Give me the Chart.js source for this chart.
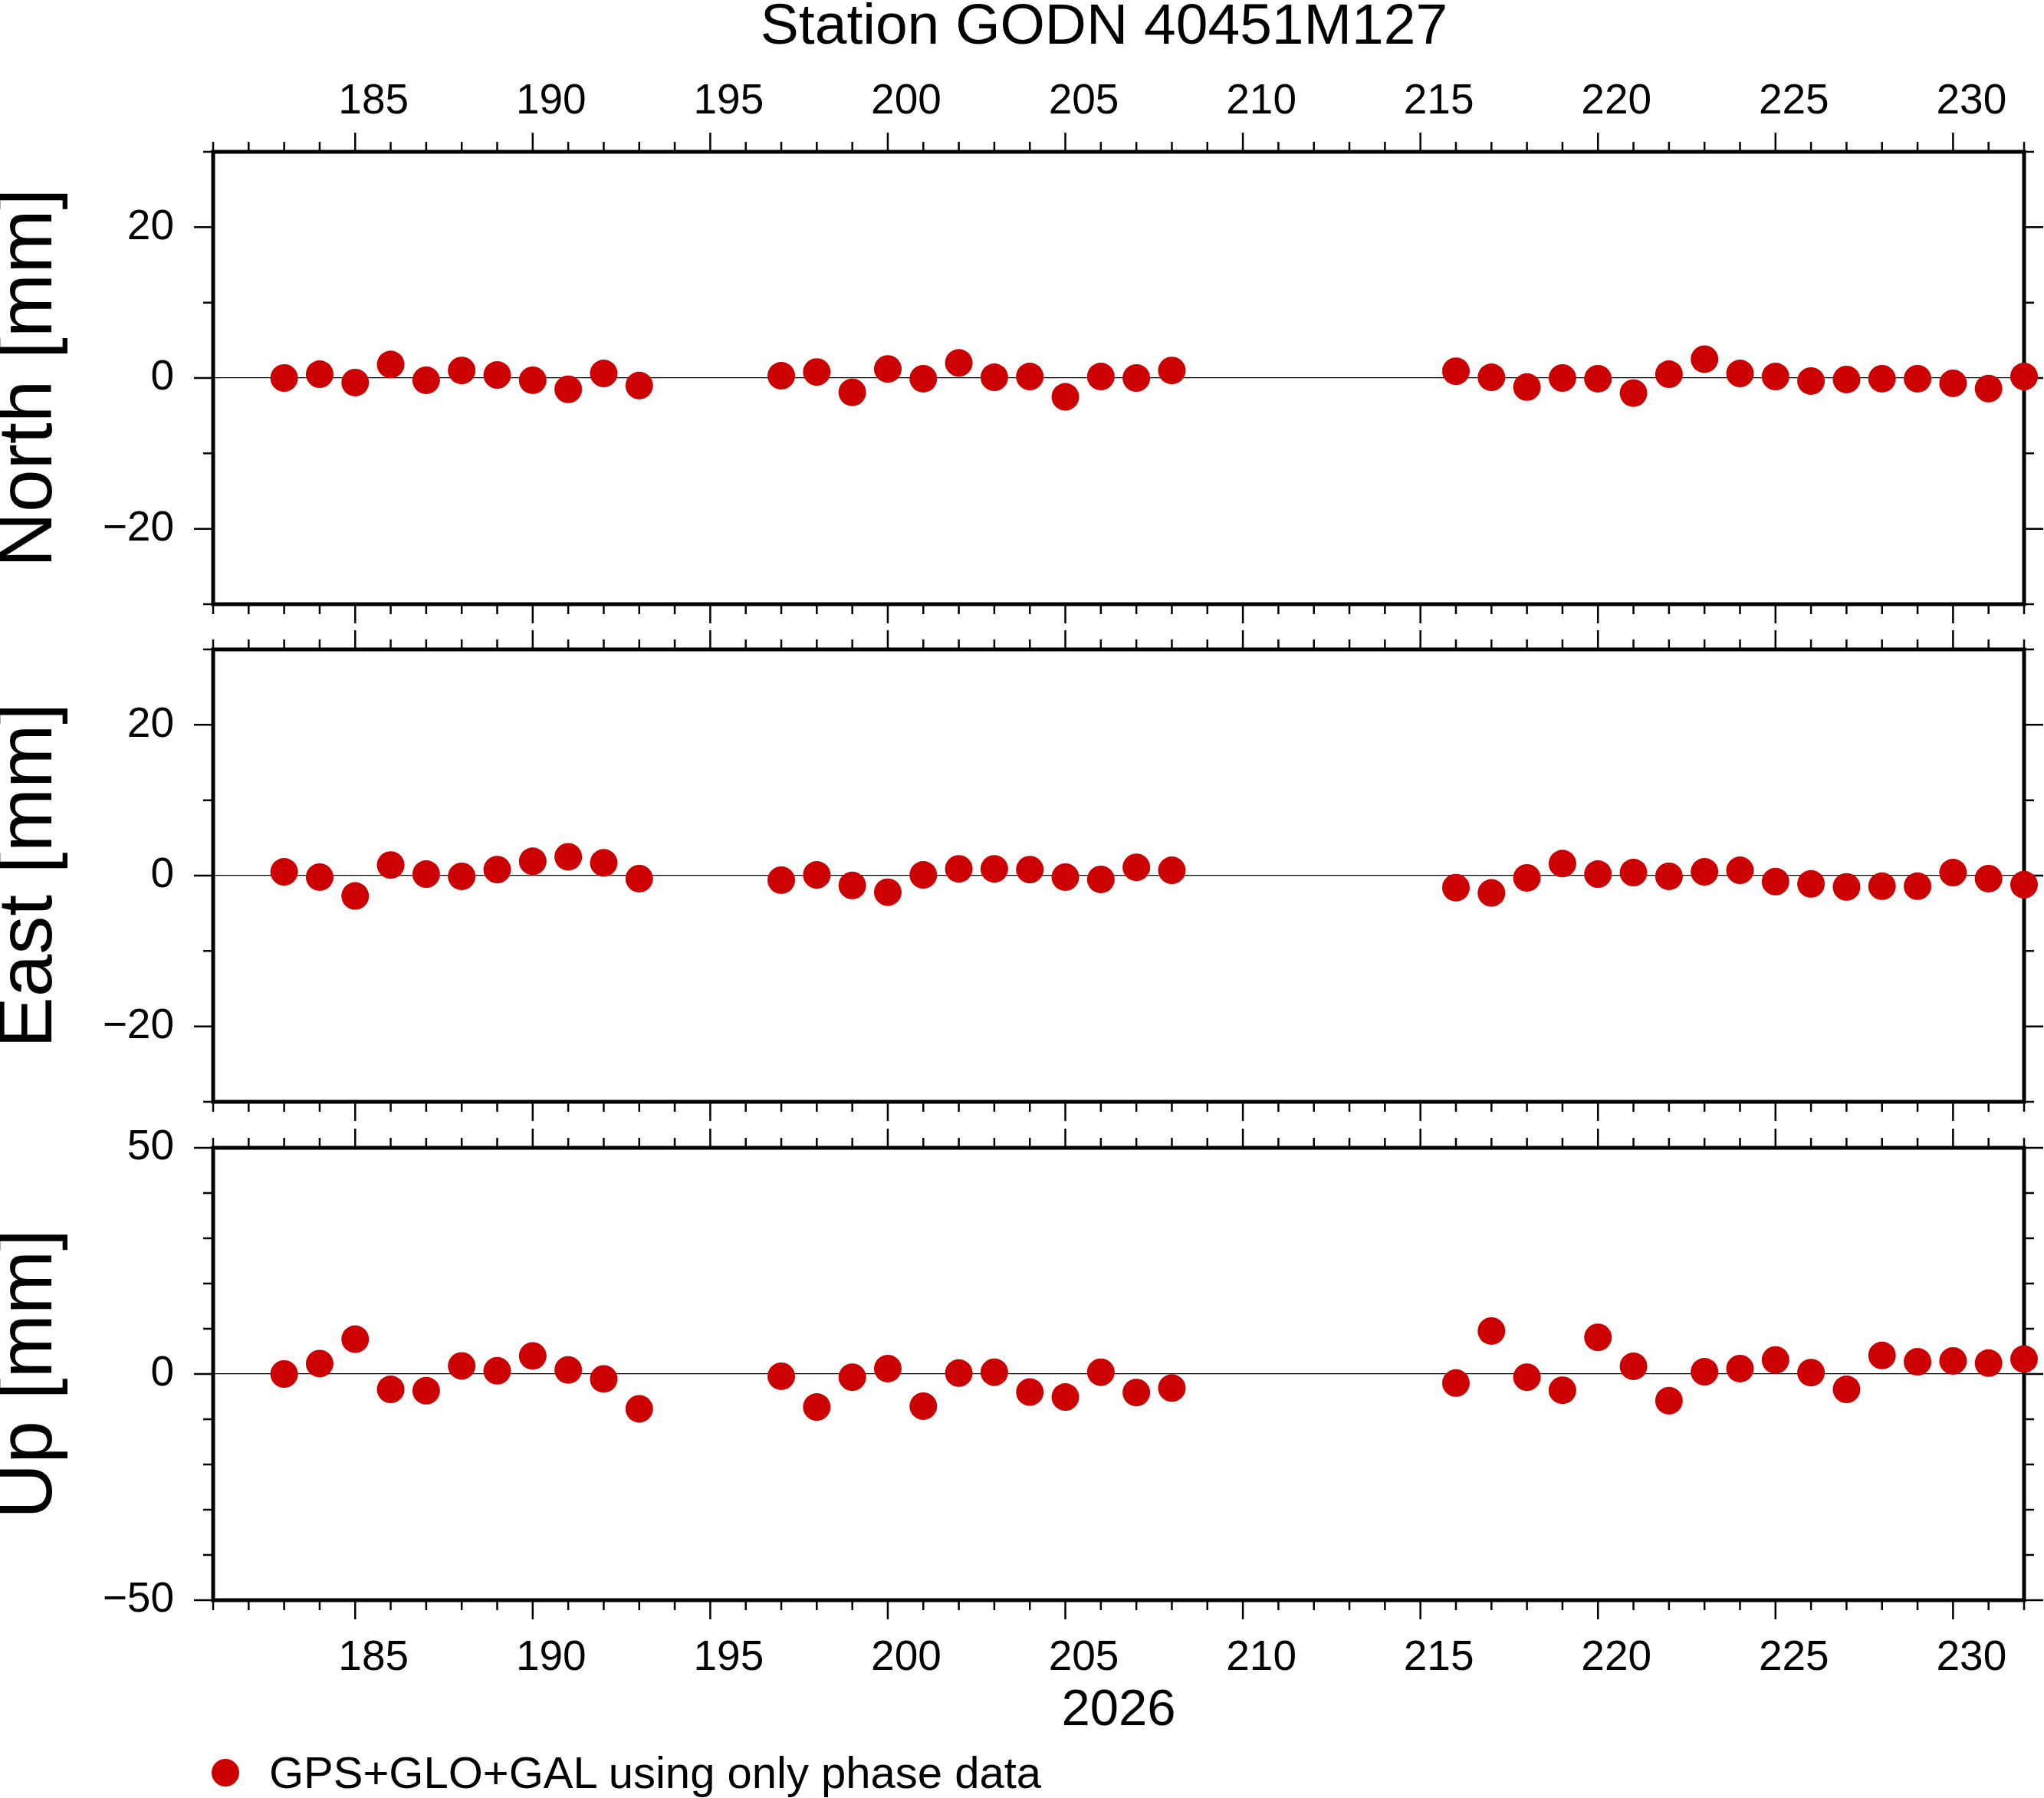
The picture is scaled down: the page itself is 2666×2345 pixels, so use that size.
<!DOCTYPE html>
<html>
<head>
<meta charset="utf-8">
<title>Station GODN 40451M127</title>
<script src="https://cdn.jsdelivr.net/npm/chart.js@4.4.1/dist/chart.umd.min.js"></script>
<style>
  html, body { margin: 0; padding: 0; background: #fff; }
  body { width: 2666px; height: 2345px; position: relative; overflow: hidden;
         font-family: "Liberation Sans", Arial, Helvetica, sans-serif; color: #000; }
  canvas { position: absolute; left: 0; }
  #title { position: absolute; left: 1440px; top: -6px; transform: translateX(-50%);
           font-size: 75px; line-height: 75px; white-space: nowrap; }
  #legend { position: absolute; left: 276px; top: 2283px; height: 58px; white-space: nowrap; }
  #legend .dot { position: absolute; left: 0; top: 11px; width: 36px; height: 36px;
                 border-radius: 50%; background: #cc0000; }
  #legend .txt { position: absolute; left: 75px; top: 0; font-size: 58px; line-height: 58px; }
</style>
</head>
<body>
<div id="title">Station GODN 40451M127</div>
<canvas id="north" width="2666" height="817" style="top:0px"></canvas>
<canvas id="east" width="2666" height="650" style="top:817px"></canvas>
<canvas id="up" width="2666" height="878" style="top:1467px"></canvas>
<div id="legend"><div class="dot"></div><div class="txt">GPS+GLO+GAL using only phase data</div></div>

<script>
// day of year 2026 (only days with a solution)
const days = [183, 184, 185, 186, 187, 188, 189, 190, 191, 192, 193,
              197, 198, 199, 200, 201, 202, 203, 204, 205, 206, 207, 208,
              216, 217, 218, 219, 220, 221, 222, 223, 224, 225, 226, 227, 228, 229, 230, 231, 232];

// residuals in mm
const north = [0.0, 0.5, -0.6, 1.8, -0.3, 1.0, 0.4, -0.3, -1.5, 0.6, -1.0,
               0.3, 0.8, -1.9, 1.2, -0.1, 2.0, 0.1, 0.2, -2.5, 0.2, 0.0, 1.0,
               0.9, 0.1, -1.2, 0.0, -0.1, -2.0, 0.5, 2.5, 0.6, 0.2, -0.4, -0.2, -0.1, -0.1, -0.7, -1.4, 0.2];
const east = [0.5, -0.2, -2.7, 1.4, 0.2, -0.1, 0.8, 1.9, 2.5, 1.7, -0.4,
              -0.6, 0.1, -1.3, -2.2, 0.1, 0.9, 0.9, 0.8, -0.2, -0.5, 1.1, 0.7,
              -1.6, -2.3, -0.3, 1.6, 0.2, 0.4, -0.1, 0.5, 0.7, -0.8, -1.1, -1.5, -1.4, -1.4, 0.4, -0.4, -1.2];
const up = [0.0, 2.3, 7.7, -3.4, -3.7, 1.8, 0.7, 4.0, 0.9, -1.1, -7.7,
            -0.5, -7.3, -0.7, 1.2, -7.1, 0.2, 0.4, -4.0, -5.1, 0.4, -4.1, -3.1,
            -2.0, 9.5, -0.7, -3.6, 8.1, 1.7, -5.9, 0.5, 1.2, 3.1, 0.3, -3.4, 4.1, 2.7, 2.9, 2.4, 3.3];

// axes
const dayMin = 181;
const dayMax = 232;
const dayLabels = [185, 190, 195, 200, 205, 210, 215, 220, 225, 230];
const neMajor = [-20, 0, 20];
const neMinor = [-30, -10, 10, 30];
const upMajor = [-50, 0, 50];
const upMinor = [-40, -30, -20, -10, 10, 20, 30, 40];

const FONT = '"Liberation Sans", Arial, Helvetica, sans-serif';
const RED = '#cc0000';
const MAJOR_LEN = 25;
const MINOR_LEN = 13;

Chart.defaults.font.family = FONT;
Chart.defaults.color = '#000';

const fmt = v => (v < 0 ? '\u2212' + Math.abs(v) : String(v));

// frame with GMT-like outward ticks on all four sides
const frameTicks = {
    id: 'frameTicks',
    beforeDatasetsDraw(chart, args, opts) {
        const { ctx, chartArea: a, scales: { x, y } } = chart;
        ctx.save();
        ctx.strokeStyle = '#000';
        ctx.lineWidth = 2.5;
        ctx.beginPath();
        for (let d = dayMin; d <= dayMax; d++) {
            const px = x.getPixelForValue(d);
            const len = d % 5 === 0 ? MAJOR_LEN : MINOR_LEN;
            ctx.moveTo(px, a.top);
            ctx.lineTo(px, a.top - len);
            ctx.moveTo(px, a.bottom);
            ctx.lineTo(px, a.bottom + len);
        }
        const yTick = (v, len) => {
            const py = y.getPixelForValue(v);
            ctx.moveTo(a.left, py);
            ctx.lineTo(a.left - len, py);
            ctx.moveTo(a.right, py);
            ctx.lineTo(a.right + len, py);
        };
        opts.major.forEach(v => yTick(v, MAJOR_LEN));
        opts.minor.forEach(v => yTick(v, MINOR_LEN));
        ctx.stroke();
        ctx.lineWidth = 5;
        ctx.strokeRect(a.left, a.top, a.right - a.left, a.bottom - a.top);
        ctx.restore();
    }
};

const xAxis = (position, show, height) => ({
    type: 'linear',
    position: position,
    display: show,
    min: dayMin,
    max: dayMax,
    afterBuildTicks: s => { s.ticks = dayLabels.map(v => ({ value: v })); },
    afterFit: s => {
        s.height = height;
        s.paddingLeft = 0;
        s.paddingRight = 0;
    },
    grid: { display: false, drawTicks: false },
    border: { display: false },
    ticks: {
        autoSkip: false,
        maxRotation: 0,
        labelOffset: 24,
        padding: position === 'top' ? 32 : 43,
        font: { size: 55 },
        color: '#000',
        callback: v => String(v)
    }
});

const yAxis = (label, lo, hi, major) => ({
    type: 'linear',
    position: 'left',
    min: lo,
    max: hi,
    afterBuildTicks: s => { s.ticks = major.map(v => ({ value: v })); },
    afterFit: s => {
        s.width = 278;
        s.paddingTop = 0;
        s.paddingBottom = 0;
    },
    grid: {
        drawTicks: false,
        lineWidth: 1.2,
        color: c => (c.tick && c.tick.value === 0 ? '#000' : 'rgba(0,0,0,0)')
    },
    border: { display: false },
    ticks: {
        padding: 51,
        font: { size: 55 },
        color: '#000',
        callback: v => fmt(v)
    },
    title: {
        display: true,
        text: label,
        color: '#000',
        padding: 0,
        font: { size: 100, lineHeight: 0.78 }
    }
});

const makePanel = (id, values, label, lo, hi, major, minor, x, padding) => {
    return new Chart(document.getElementById(id), {
        type: 'scatter',
        data: {
            datasets: [{
                label: 'GPS+GLO+GAL using only phase data',
                data: days.map((d, i) => ({ x: d, y: values[i] })),
                backgroundColor: RED,
                borderWidth: 0,
                pointRadius: 18,
                pointHoverRadius: 18,
                clip: false
            }]
        },
        options: {
            responsive: false,
            animation: false,
            devicePixelRatio: 1,
            layout: { padding: padding },
            scales: { x: x, y: yAxis(label, lo, hi, major) },
            plugins: {
                legend: { display: false },
                tooltip: { enabled: false },
                frameTicks: { major: major, minor: minor }
            }
        },
        plugins: [frameTicks]
    });
};

// North: labels on top
makePanel('north', north, 'North [mm]', -30, 30, neMajor, neMinor, xAxis('top', true, 198),
    { left: 0, right: 26, top: 0, bottom: 29 });

// East: no x labels
makePanel('east', east, 'East [mm]', -30, 30, neMajor, neMinor, xAxis('bottom', false, 0),
    { left: 0, right: 26, top: 30, bottom: 30 });

// Up: labels below, year as axis title
const xBottom = xAxis('bottom', true, 200);
xBottom.title = {
    display: true,
    text: '2026',
    color: '#000',
    font: { size: 67 },
    padding: { top: 0, bottom: 15 }
};
makePanel('up', up, 'Up [mm]', -50, 50, upMajor, upMinor, xBottom,
    { left: 0, right: 26, top: 30, bottom: 58 });
</script>
</body>
</html>
